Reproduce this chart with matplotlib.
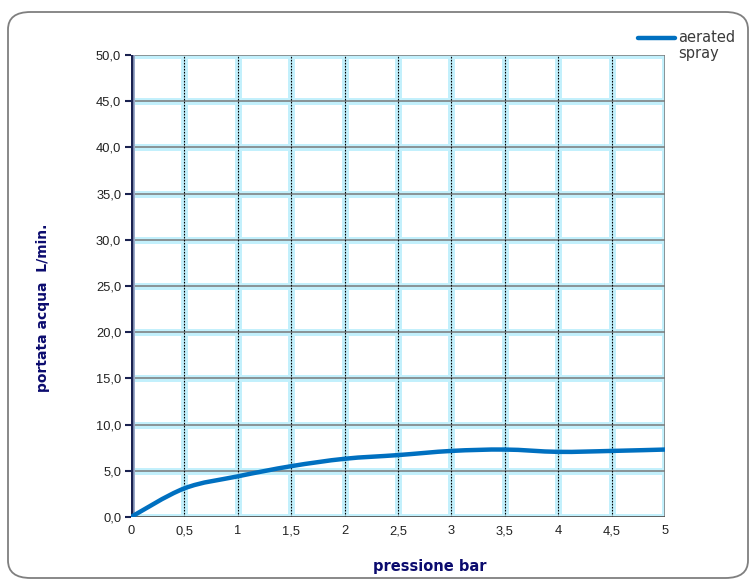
# -*- coding: utf-8 -*-
import matplotlib
matplotlib.use('Agg')
import matplotlib.pyplot as plt
from matplotlib.patches import FancyBboxPatch, PathPatch
from matplotlib.path import Path
from matplotlib.lines import Line2D

# dati
pressione = [0, 0.5, 1, 1.5, 2, 2.5, 3, 3.5, 4, 4.5, 5]
portata = [0.0, 3.1, 4.4, 5.5, 6.3, 6.7, 7.15, 7.3, 7.05, 7.15, 7.3]
x_ticks = [0, 0.5, 1, 1.5, 2, 2.5, 3, 3.5, 4, 4.5, 5]
x_labels = ['0', '0,5', '1', '1,5', '2', '2,5', '3', '3,5', '4', '4,5', '5']
y_ticks = [0, 5, 10, 15, 20, 25, 30, 35, 40, 45, 50]
y_labels = ['%d,0' % v for v in y_ticks]
serie = 'aerated\nspray'

NAVY = '#0b0b6e'
BLU = '#0070c0'
GLOW = '#c2f0fc'

plt.rcParams['font.family'] = ['Liberation Sans', 'DejaVu Sans']

fig = plt.figure(figsize=(7.54, 5.82), dpi=100)

# cornice arrotondata
frame = FancyBboxPatch((8 / 754, 4 / 582), 740 / 754, 566 / 582,
                       boxstyle='round,pad=0,rounding_size=0.03',
                       transform=fig.transFigure, facecolor='white',
                       edgecolor='#7f7f7f', linewidth=1.3, zorder=-5)
fig.patches.append(frame)

ax = fig.add_axes([131 / 754, 1 - 517 / 582, 534 / 754, 462 / 582])
ax.set_zorder(2)
ax.set_xlim(0, 5)
ax.set_ylim(0, 50)
ax.patch.set_alpha(0)
for s in ax.spines.values():
    s.set_visible(False)

# griglia con alone
for y in y_ticks:
    ax.axhline(y, color=GLOW, lw=5, zorder=1, solid_capstyle='butt')
for x in x_ticks:
    ax.axvline(x, color=GLOW, lw=5, zorder=1, solid_capstyle='butt')
for y in y_ticks[1:]:
    ax.axhline(y, color='#7a7a7a', lw=1.1, zorder=2)
for x in x_ticks[1:-1]:
    ax.axvline(x, color='#000000', lw=0.8, ls=(0, (1.5, 1.2)), zorder=2)
ax.axvline(5, color='#7a7a7a', lw=1.1, zorder=2)
ax.axhline(0, color='#555555', lw=1.3, zorder=2)
ax.axvline(0, color='#9aa8c8', lw=5, zorder=2)
ax.axvline(0, color='#1a2250', lw=2.5, zorder=3)

# curva smussata (Catmull-Rom -> Bezier)
verts = [(pressione[0], portata[0])]
codes = [Path.MOVETO]
n = len(pressione)
for i in range(n - 1):
    p0 = (pressione[max(i - 1, 0)], portata[max(i - 1, 0)])
    p1 = (pressione[i], portata[i])
    p2 = (pressione[i + 1], portata[i + 1])
    p3 = (pressione[min(i + 2, n - 1)], portata[min(i + 2, n - 1)])
    c1 = (p1[0] + (p2[0] - p0[0]) / 6, p1[1] + (p2[1] - p0[1]) / 6)
    c2 = (p2[0] - (p3[0] - p1[0]) / 6, p2[1] - (p3[1] - p1[1]) / 6)
    verts += [c1, c2, p2]
    codes += [Path.CURVE4] * 3
ax.add_patch(PathPatch(Path(verts, codes), facecolor='none', edgecolor=BLU,
                       lw=3.2, capstyle='round', zorder=5))

ax.set_xticks(x_ticks)
ax.set_xticklabels(x_labels)
ax.set_yticks(y_ticks)
ax.set_yticklabels(y_labels)
ax.tick_params(axis='both', labelsize=9.3, colors='#222222', length=4,
               width=1.5, pad=3)
ax.tick_params(axis='x', length=0, pad=6)
ax.tick_params(axis='y', color='#1a2250')

fig.text(430 / 754, 1 - 566 / 582, 'pressione bar', ha='center', va='center',
         fontsize=10.5, fontweight='bold', color=NAVY,
         family=['DejaVu Sans'])
fig.text(43 / 754, 1 - 308 / 582, 'portata acqua  L/min.', ha='center',
         va='center', rotation=90, fontsize=10, fontweight='bold',
         color=NAVY, family=['DejaVu Sans'])

# legenda
fig.add_artist(Line2D([638 / 754, 675 / 754], [1 - 38 / 582, 1 - 38 / 582],
                      transform=fig.transFigure, color=BLU, lw=3.2,
                      solid_capstyle='round'))
fig.text(678 / 754, 1 - 30 / 582, serie, ha='left', va='top',
         fontsize=10.5, color='#3a3a3a', linespacing=1.05,
         family=['DejaVu Sans'])

fig.savefig('out.png', dpi=100)
